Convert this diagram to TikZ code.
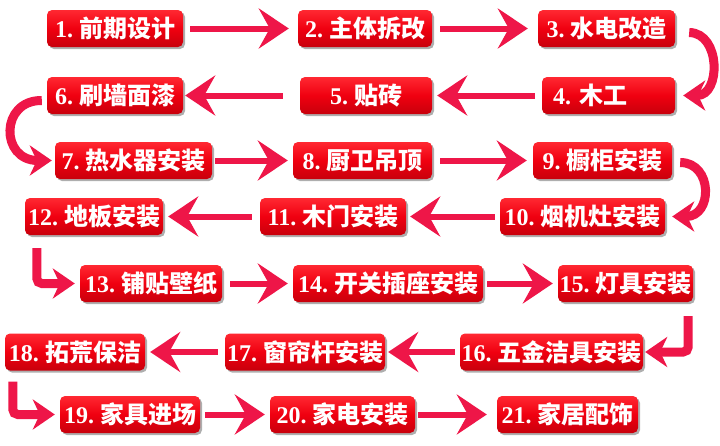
\documentclass[tikz,border=0pt]{standalone}
\usepackage{fontspec}
\setmainfont{Liberation Serif}
\newfontfamily\cjk{Noto Sans CJK SC}
\usetikzlibrary{arrows.meta,shadows,calc}
\definecolor{boxred}{RGB}{240,0,16}
\definecolor{boxtop}{RGB}{255,40,50}
\definecolor{boxbot}{RGB}{200,0,12}
\definecolor{arrred}{RGB}{238,22,72}
\newcommand{\lbl}[2]{\bfseries #1\ {\cjk\bfseries #2}}
\begin{document}
\begin{tikzpicture}[x=1pt,y=-1pt,
 stepbox/.style={rounded corners=5pt, minimum height=37pt, inner sep=0pt, text=white,
   font=\fontsize{24}{25}\selectfont, top color=boxtop, bottom color=boxbot, middle color=boxred,
   drop shadow={shadow xshift=2pt, shadow yshift=-2pt, opacity=0.45, fill=black!70}},
 flow/.style={draw=arrred, line width=6pt, -{Stealth[length=30pt,width=40pt,inset=11pt]}},
 bendarr/.style={draw=arrred, line width=9pt, -{Stealth[length=22pt,width=30pt,inset=7pt]}},
]
\useasboundingbox (0,0) rectangle (720,445);
\fill[white] (0,0) rectangle (720,445);

% row 1
\node[stepbox, minimum width=136pt] (n1) at (115,28.5) {\lbl{1.}{前期设计}};
\node[stepbox, minimum width=134pt] (n2) at (365,28.5) {\lbl{2.}{主体拆改}};
\node[stepbox, minimum width=137pt] (n3) at (606.5,28.5) {\lbl{3.}{水电改造}};
% row 2
\node[stepbox, minimum width=136pt] (n6) at (115,95.5) {\lbl{6.}{刷墙面漆}};
\node[stepbox, minimum width=132pt] (n5) at (366,95.5) {\lbl{5.}{贴砖}};
\node[stepbox, minimum width=133pt, text width=111pt, align=left] (n4) at (608.5,95.5) {\lbl{4.}{木工}};
% row 3
\node[stepbox, minimum width=157pt] (n7) at (133.5,160.5) {\lbl{7.}{热水器安装}};
\node[stepbox, minimum width=139pt] (n8) at (362.5,160.5) {\lbl{8.}{厨卫吊顶}};
\node[stepbox, minimum width=139pt] (n9) at (602.5,160.5) {\lbl{9.}{橱柜安装}};
% row 4
\node[stepbox, minimum width=138pt] (n12) at (94,216.5) {\lbl{12.}{地板安装}};
\node[stepbox, minimum width=146pt] (n11) at (333,216.5) {\lbl{11.}{木门安装}};
\node[stepbox, minimum width=165pt] (n10) at (582.5,216.5) {\lbl{10.}{烟机灶安装}};
% row 5
\node[stepbox, minimum width=142pt] (n13) at (151,283.5) {\lbl{13.}{铺贴壁纸}};
\node[stepbox, minimum width=190pt] (n14) at (388,283.5) {\lbl{14.}{开关插座安装}};
\node[stepbox, minimum width=135pt] (n15) at (625.5,283.5) {\lbl{15.}{灯具安装}};
% row 6
\node[stepbox, minimum width=140pt] (n18) at (75,352) {\lbl{18.}{拓荒保洁}};
\node[stepbox, minimum width=160pt] (n17) at (305,352) {\lbl{17.}{窗帘杆安装}};
\node[stepbox, minimum width=183pt] (n16) at (551.5,352) {\lbl{16.}{五金洁具安装}};
% row 7
\node[stepbox, minimum width=140pt] (n19) at (130,414.5) {\lbl{19.}{家具进场}};
\node[stepbox, minimum width=145pt] (n20) at (342.5,414.5) {\lbl{20.}{家电安装}};
\node[stepbox, minimum width=141pt] (n21) at (567.5,414.5) {\lbl{21.}{家居配饰}};

% straight connectors
\draw[flow, shorten <=7pt, shorten >=9pt] (n1.east) -- (n2.west);
\draw[flow, shorten <=8pt, shorten >=10pt] (n2.east) -- (n3.west);
\draw[flow, shorten <=7pt, shorten >=5pt] (n4.west) -- (n5.east);
\draw[flow, shorten <=17pt, shorten >=2pt] (n5.west) -- (n6.east);
\draw[flow, shorten <=3pt, shorten >=5pt] (n7.east) -- (n8.west);
\draw[flow, shorten <=8pt, shorten >=6pt] (n8.east) -- (n9.west);
\draw[flow, shorten <=5pt, shorten >=4pt] (n10.west) -- (n11.east);
\draw[flow, shorten <=8pt, shorten >=5pt] (n11.west) -- (n12.east);
\draw[flow, shorten <=8pt, shorten >=5pt] (n13.east) -- (n14.west);
\draw[flow, shorten <=4pt, shorten >=5pt] (n14.east) -- (n15.west);
\draw[flow, shorten <=5pt, shorten >=3pt] (n16.west) -- (n17.east);
\draw[flow, shorten <=7pt, shorten >=5pt] (n17.west) -- (n18.east);
\draw[flow, shorten <=5pt, shorten >=5pt] (n19.east) -- (n20.west);
\draw[flow, shorten <=3pt, shorten >=10pt] (n20.east) -- (n21.west);

% curved connectors
\draw[bendarr] ($(n3.east)+(14,4)$) .. controls (721,33) and (721,95.5) .. ($(n4.east)+(8,0)$);
\draw[bendarr] ($(n6.west)+(-5,5)$) .. controls (0,100) and (0,160.5) .. ($(n7.west)+(-3,0)$);
\draw[bendarr] ($(n9.east)+(8,2)$) .. controls (713,162.5) and (713,216.5) .. ($(n10.east)+(7,0)$);

% elbow connectors
\draw[bendarr, rounded corners=5pt] ($(n12.south west)+(12,13)$) |- ($(n13.west)+(-5,0)$);
\draw[bendarr, rounded corners=5pt] ($(n15.south east)+(-5,14)$) |- ($(n16.east)+(2,0)$);
\draw[bendarr, rounded corners=5pt] ($(n18.south west)+(8,11)$) |- ($(n19.west)+(-5,0)$);
\end{tikzpicture}
\end{document}
